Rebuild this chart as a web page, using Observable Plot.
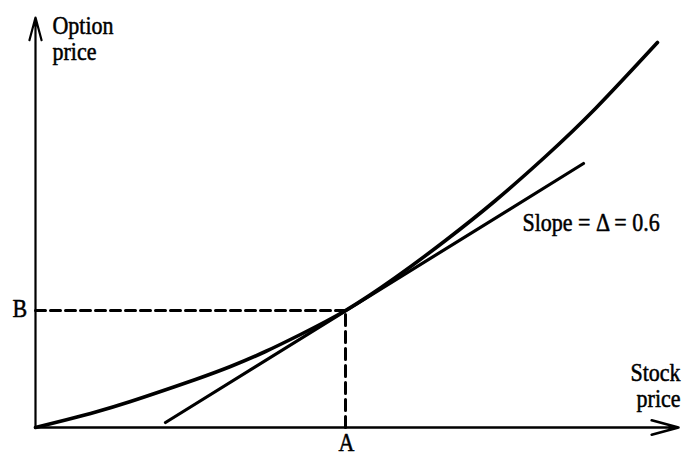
<!DOCTYPE html>
<html><head><meta charset="utf-8">
<script src="https://cdn.jsdelivr.net/npm/d3@7"></script>
<script src="https://cdn.jsdelivr.net/npm/@observablehq/plot@0.6"></script>
<style>html,body{margin:0;padding:0;background:#fff}</style>
</head><body><div id="chart"></div>
<script>
// Option price curve (stock price -> option price)
const curveX = [0, 30, 62, 95, 128, 160, 195, 230, 265, 310, 360, 410, 460, 510, 560, 622];
const curveY = [0, 7.5, 16, 26, 37, 48, 61, 76, 93, 117, 150, 187, 227, 271, 319, 385];
// Tangent line at A (slope = delta)
const tangentX = [130, 548];
const tangentY = [5, 264];
// Point of tangency
const pointA = 310;
const pointB = 117;
// Axis extents
const xMax = 643;
const yMax = 410;
// Labels
const labels = [
  {text: "Option\nprice", x: 17, y: 411, anchor: "start", line: "top"},
  {text: "Slope = Δ = 0.6", x: 487, y: 214, anchor: "start", line: "top"},
  {text: "Stock\nprice", x: 645, y: 64, anchor: "end", line: "top"},
  {text: "B", x: -23, y: 119, anchor: "start", line: "middle"},
  {text: "A", x: 311, y: -15, anchor: "middle", line: "middle"}
];

const curve = curveX.map((x, i) => ({x, y: curveY[i]}));
const tangent = tangentX.map((x, i) => ({x, y: tangentY[i]}));

const font = "Liberation Serif, Times New Roman, serif";
const textMarks = labels.map(l => Plot.text([l], {
  x: "x", y: "y", text: "text", textAnchor: l.anchor, lineAnchor: l.line,
  fontSize: 22, fontFamily: font, fill: "black", stroke: "black", strokeWidth: 0.45, lineHeight: 1.0
}));

const chart = Plot.plot({
  width: 682, height: 456,
  marginLeft: 35, marginRight: 4, marginTop: 17, marginBottom: 29,
  x: {domain: [0, xMax], axis: null},
  y: {domain: [0, yMax], axis: null},
  style: {background: "white", overflow: "visible"},
  marks: [
    Plot.arrow([{x1: 0, y1: 0, x2: 0, y2: yMax}], {x1: "x1", y1: "y1", x2: "x2", y2: "y2", stroke: "black", strokeWidth: 2.2, headLength: 16, headAngle: 30}),
    Plot.arrow([{x1: 0, y1: 0, x2: xMax, y2: 0}], {x1: "x1", y1: "y1", x2: "x2", y2: "y2", stroke: "black", strokeWidth: 2.6, headLength: 16, headAngle: 30}),
    Plot.line([{x: 0, y: pointB}, {x: pointA, y: pointB}], {x: "x", y: "y", stroke: "black", strokeWidth: 3, strokeDasharray: "10,5"}),
    Plot.line([{x: pointA, y: 0}, {x: pointA, y: pointB}], {x: "x", y: "y", stroke: "black", strokeWidth: 3, strokeDasharray: "11,6"}),
    Plot.line(curve, {x: "x", y: "y", curve: "natural", stroke: "black", strokeWidth: 3.6}),
    Plot.line(tangent, {x: "x", y: "y", stroke: "black", strokeWidth: 3.2, strokeLinecap: "round"}),
    ...textMarks
  ]
});

// vertically stretch label glyphs slightly to match the scanned figure
chart.querySelectorAll("text").forEach(t => {
  const tr = t.getAttribute("transform") || "";
  t.setAttribute("transform", tr + " scale(1,1.15)");
});

document.getElementById("chart").appendChild(chart);
</script>
</body></html>
